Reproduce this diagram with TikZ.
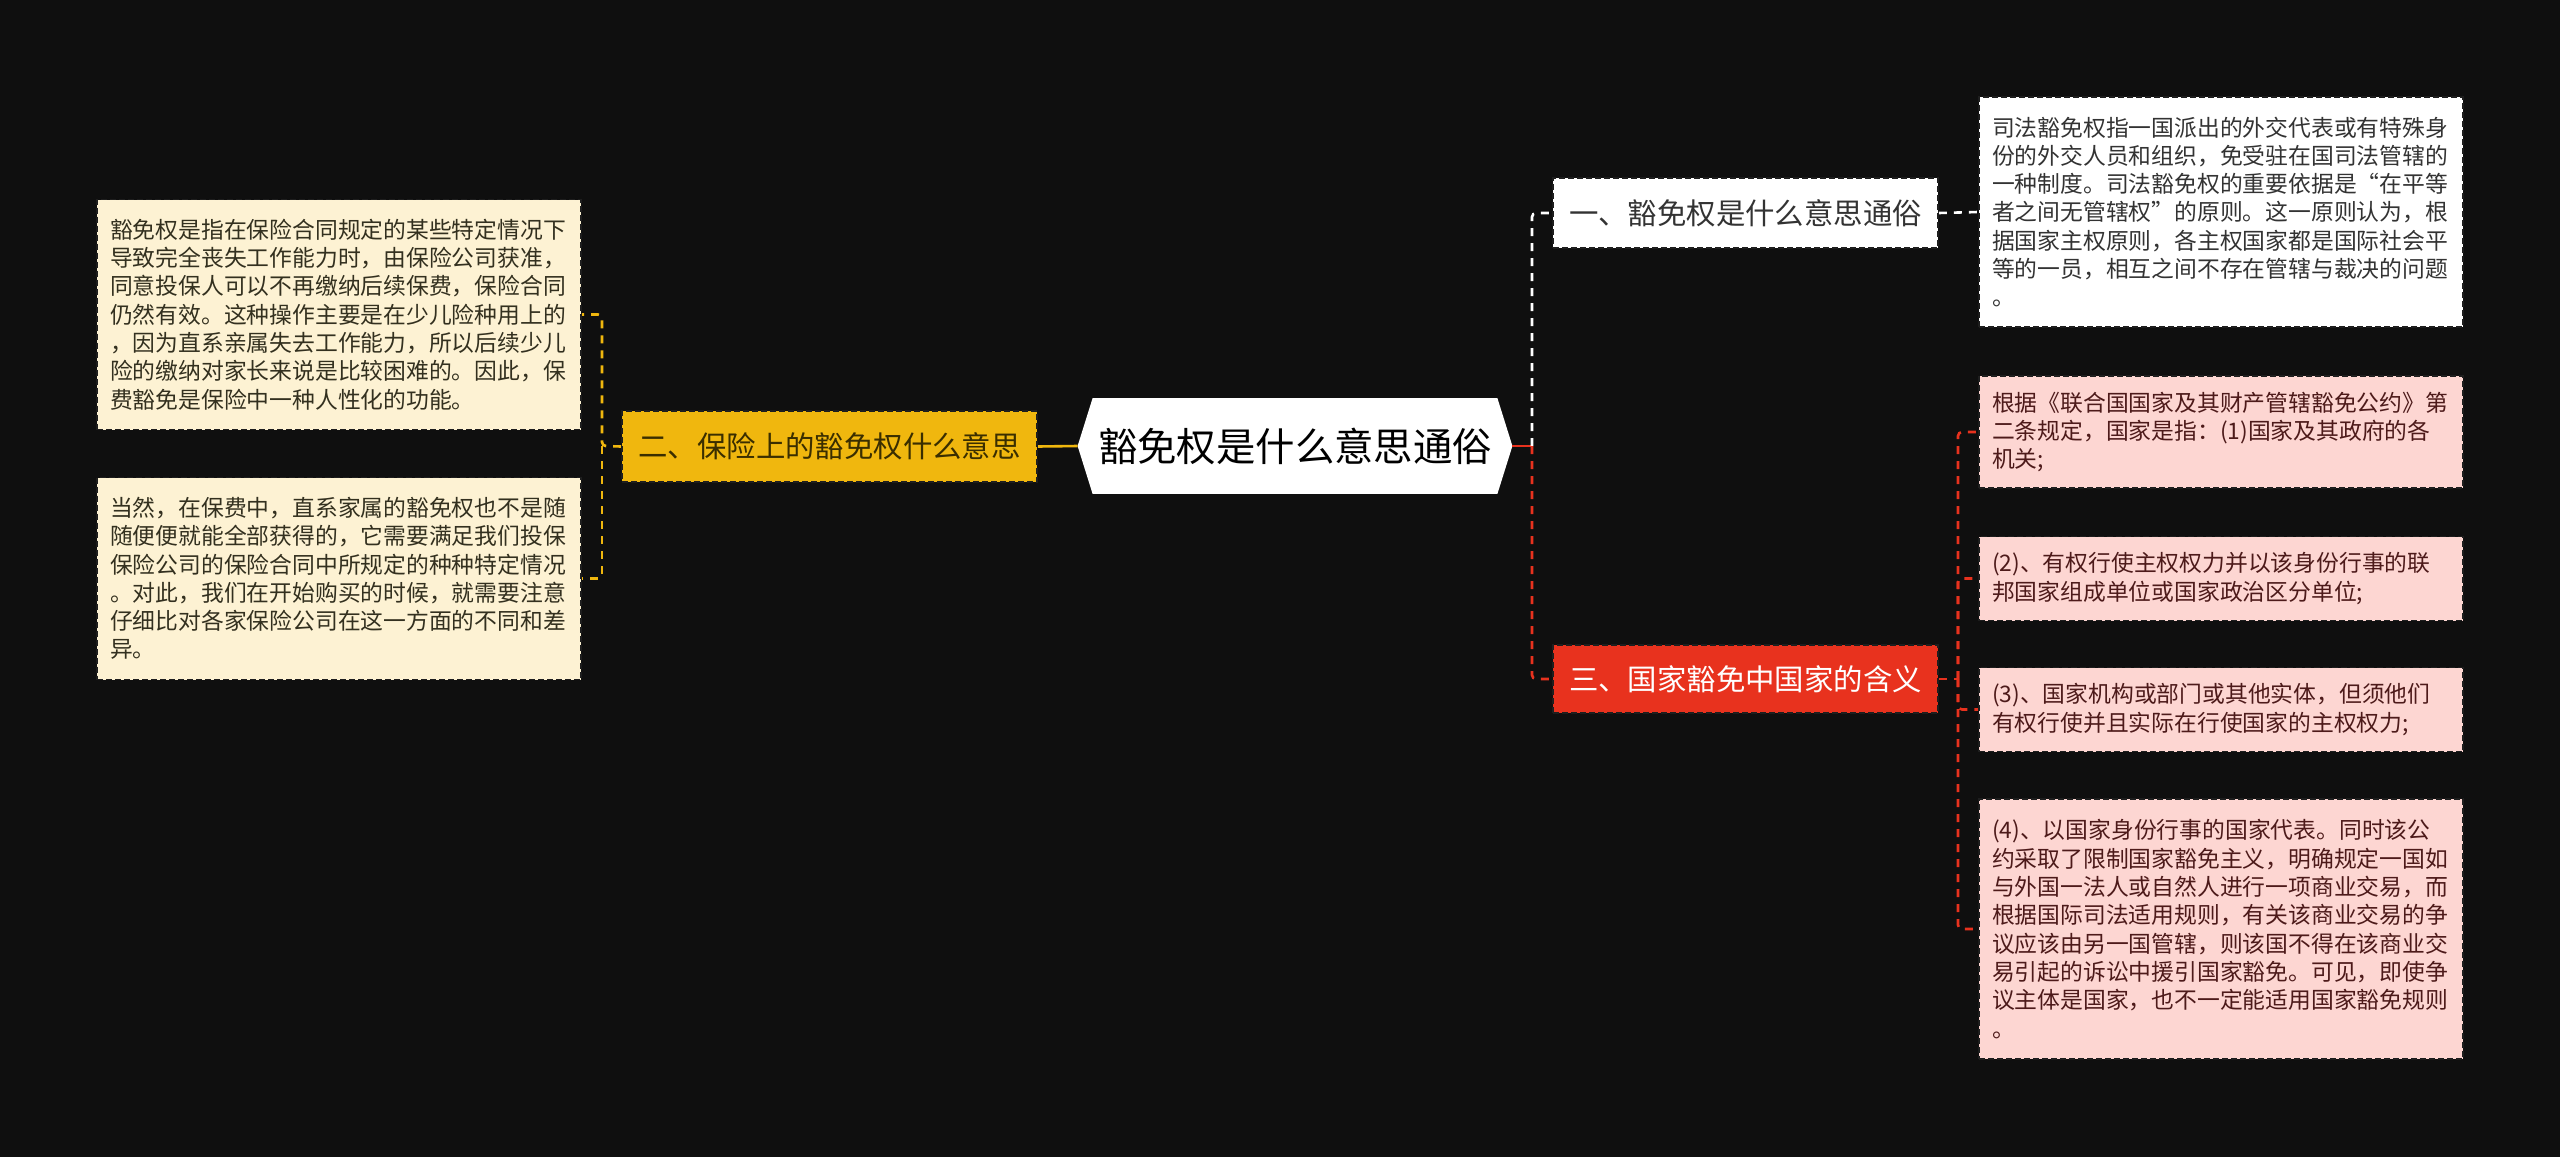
\documentclass[tikz,border=0pt]{standalone}
\usepackage{fontspec}
\setmainfont{Noto Sans CJK SC}
\usetikzlibrary{calc}
\pgfdeclarelayer{bg}
\pgfsetlayers{bg,main}
\definecolor{bgc}{HTML}{0F0F0F}
\definecolor{cream}{HTML}{FDF2D3}
\definecolor{creamtxt}{HTML}{33301F}
\definecolor{gold}{HTML}{F0B70E}
\definecolor{goldtxt}{HTML}{3A2E00}
\definecolor{pinkf}{HTML}{FDD6D2}
\definecolor{pinktxt}{HTML}{4D1A1A}
\definecolor{redn}{HTML}{E8321E}
\definecolor{whitetxt}{HTML}{333333}
\definecolor{lineblk}{HTML}{1E1E1E}
\begin{document}
\begin{tikzpicture}[x=0.5pt,y=-0.5pt,
  boxbase/.style={rectangle, draw=lineblk, line width=0.8pt, dash pattern=on 3pt off 1.5pt},
  leaf/.style={boxbase, text width=229pt, align=left, inner xsep=6.5pt, inner ysep=0pt,
    font=\fontsize{11.4}{14.15}\selectfont, minimum width=242pt},
  creamleaf/.style={leaf, fill=cream, text=creamtxt},
  pinkleaf/.style={leaf, fill=pinkf, text=pinktxt},
  whiteleaf/.style={leaf, fill=white, text=whitetxt},
  topic/.style={boxbase, align=center, inner sep=0pt, font=\fontsize{14.7}{17}\selectfont,
    minimum width=192.5pt, minimum height=35pt},
  ycon/.style={draw=gold, line width=1.3pt, dash pattern=on 4pt off 3.5pt, rounded corners=2pt},
  ysolid/.style={draw=gold, line width=1.3pt},
  wcon/.style={draw=white, line width=1.3pt, dash pattern=on 4pt off 3.5pt, rounded corners=2pt},
  rcon/.style={draw=redn, line width=1.3pt, dash pattern=on 4pt off 3.5pt, rounded corners=2pt},
  rsolid/.style={draw=redn, line width=1.3pt}
]
\begin{pgfonlayer}{bg}
\fill[bgc] (0,0) rectangle (2560,1157);
\end{pgfonlayer}
\useasboundingbox (0,0) rectangle (2560,1157);

% root
\node[rectangle, inner sep=0pt, minimum width=217pt, minimum height=47.5pt,
  font=\fontsize{19.7}{22}\selectfont, text=black] (root) at (1295,446) {豁免权是什么意思通俗};
\begin{pgfonlayer}{bg}
\fill[white] (root.west) -- ([xshift=7.5pt]root.north west) -- ([xshift=-7.5pt]root.north east)
  -- (root.east) -- ([xshift=-7.5pt]root.south east) -- ([xshift=7.5pt]root.south west) -- cycle;
\end{pgfonlayer}

% topics
\node[topic, fill=gold, text=goldtxt, minimum width=207.5pt, minimum height=35.5pt] (yel) at (829.5,446.5) {二、保险上的豁免权什么意思};
\node[topic, fill=white, text=whitetxt] (n1) at (1745.5,213) {一、豁免权是什么意思通俗};
\node[topic, fill=redn, text=white, minimum height=34pt] (n3) at (1745.5,679) {三、国家豁免中国家的含义};

% left leaves
\node[creamleaf, minimum height=115pt] (lb1) at (339,314.5) {豁免权是指在保险合同规定的某些特定情况下\\导致完全丧失工作能力时，由保险公司获准，\\同意投保人可以不再缴纳后续保费，保险合同\\仍然有效。这种操作主要是在少儿险种用上的\\，因为直系亲属失去工作能力，所以后续少儿\\险的缴纳对家长来说是比较困难的。因此，保\\费豁免是保险中一种人性化的功能。};
\node[creamleaf, minimum height=101pt] (lb2) at (339,578.5) {当然，在保费中，直系家属的豁免权也不是随\\随便便就能全部获得的，它需要满足我们投保\\保险公司的保险合同中所规定的种种特定情况\\。对此，我们在开始购买的时候，就需要注意\\仔细比对各家保险公司在这一方面的不同和差\\异。};

% right leaves
\node[whiteleaf, minimum height=115pt] (rb1) at (2221,212) {司法豁免权指一国派出的外交代表或有特殊身\\份的外交人员和组织，免受驻在国司法管辖的\\一种制度。司法豁免权的重要依据是“在平等\\者之间无管辖权”的原则。这一原则认为，根\\据国家主权原则，各主权国家都是国际社会平\\等的一员，相互之间不存在管辖与裁决的问题\\。};
\node[pinkleaf, minimum height=56pt] (p1) at (2221,432) {根据《联合国国家及其财产管辖豁免公约》第\\二条规定，国家是指：(1)国家及其政府的各\\机关;};
\node[pinkleaf, minimum height=42pt] (p2) at (2221,578.5) {(2)、有权行使主权权力并以该身份行事的联\\邦国家组成单位或国家政治区分单位;};
\node[pinkleaf, minimum height=42pt] (p3) at (2221,709.5) {(3)、国家机构或部门或其他实体，但须他们\\有权行使并且实际在行使国家的主权权力;};
\node[pinkleaf, minimum height=130pt] (p4) at (2221,929) {(4)、以国家身份行事的国家代表。同时该公\\约采取了限制国家豁免主义，明确规定一国如\\与外国一法人或自然人进行一项商业交易，而\\根据国际司法适用规则，有关该商业交易的争\\议应该由另一国管辖，则该国不得在该商业交\\易引起的诉讼中援引国家豁免。可见，即使争\\议主体是国家，也不一定能适用国家豁免规则\\。};

% bus points
\coordinate (busL) at (602,446);
\coordinate (busR) at (1532,446);
\coordinate (busP) at (1958,679);

% connectors
\begin{pgfonlayer}{bg}
\draw[ysolid] (root.west) -- (yel.east);
\draw[ycon] (yel.west) -- (busL) |- (lb1.east);
\draw[ycon] (busL) |- (lb2.east);
\draw[rsolid] (root.east) -- (busR);
\draw[wcon] (busR) |- (n1.west);
\draw[rcon] (busR) |- (n3.west);
\draw[wcon] (n1.east) -- (rb1.west);
\draw[rcon] (n3.east) -- (busP);
\draw[rcon] (busP) |- (p1.west);
\draw[rcon] (busP) |- (p2.west);
\draw[rcon] (busP) |- (p3.west);
\draw[rcon] (busP) |- (p4.west);
\end{pgfonlayer}
\end{tikzpicture}
\end{document}
